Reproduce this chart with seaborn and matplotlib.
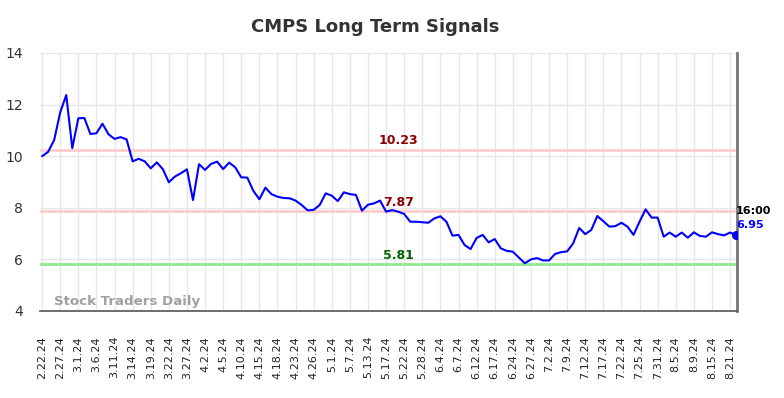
import numpy as np
import pandas as pd
import matplotlib
matplotlib.use("Agg")
import matplotlib.pyplot as plt
import seaborn as sns

values = [10.00, 10.17, 10.63, 11.70, 12.37, 10.31, 11.47, 11.48, 10.86, 10.89,
          11.26, 10.85, 10.67, 10.74, 10.65, 9.80, 9.90, 9.80, 9.53, 9.76,
          9.50, 8.99, 9.21, 9.34, 9.49, 8.30, 9.69, 9.47, 9.70, 9.79,
          9.50, 9.75, 9.57, 9.18, 9.17, 8.66, 8.33, 8.78, 8.53, 8.43,
          8.38, 8.37, 8.28, 8.11, 7.90, 7.92, 8.11, 8.56, 8.47, 8.26,
          8.60, 8.53, 8.50, 7.89, 8.12, 8.17, 8.28, 7.85, 7.91, 7.85,
          7.76, 7.46, 7.46, 7.44, 7.42, 7.59, 7.67, 7.46, 6.92, 6.95,
          6.56, 6.40, 6.83, 6.95, 6.66, 6.79, 6.43, 6.33, 6.30, 6.07,
          5.85, 6.00, 6.05, 5.96, 5.96, 6.21, 6.28, 6.31, 6.62, 7.22,
          6.98, 7.14, 7.68, 7.48, 7.27, 7.29, 7.42, 7.27, 6.95, 7.46,
          7.94, 7.62, 7.62, 6.88, 7.04, 6.88, 7.04, 6.84, 7.05, 6.91,
          6.88, 7.05, 6.98, 6.93, 7.04, 6.95]

tick_labels = ["2.22.24", "2.27.24", "3.1.24", "3.6.24", "3.11.24", "3.14.24", "3.19.24",
               "3.22.24", "3.27.24", "4.2.24", "4.5.24", "4.10.24", "4.15.24", "4.18.24",
               "4.23.24", "4.26.24", "5.1.24", "5.7.24", "5.13.24", "5.17.24", "5.22.24",
               "5.28.24", "6.4.24", "6.7.24", "6.12.24", "6.17.24", "6.24.24", "6.27.24",
               "7.2.24", "7.9.24", "7.12.24", "7.17.24", "7.22.24", "7.25.24", "7.31.24",
               "8.5.24", "8.9.24", "8.15.24", "8.21.24"]

levels = [10.23, 7.87, 5.81]
level_labels = ["10.23", "7.87", "5.81"]
last_time = "16:00"
last_value = "6.95"

sns.set_theme(style="white")
plt.rcParams['font.family'] = ['DejaVu Sans']

df = pd.DataFrame({"idx": np.arange(len(values)), "price": values})

fig = plt.figure(figsize=(7.84, 3.98), dpi=100)
ax = fig.add_axes([40/784, 1-311/398, (737-40)/784, (311-53)/398])

tick_pos = np.arange(0, len(tick_labels) * 3, 3)
for t in tick_pos:
    ax.axvline(t, color="#e6e6e6", lw=1, zorder=0)
for yv in range(4, 15, 2):
    ax.axhline(yv, color="#e6e6e6", lw=1, zorder=0)

line_colors = ["#ffcccc", "#ffcccc", "#90e890"]
text_colors = ["#8b0000", "#8b0000", "#006400"]
for lv, lab, lc, tc in zip(levels, level_labels, line_colors, text_colors):
    ax.axhline(lv, color=lc, lw=2, zorder=1)

sns.lineplot(data=df, x="idx", y="price", ax=ax, color="#0000ff", lw=1.5, zorder=3)
ax.scatter([df["idx"].iloc[-1]], [df["price"].iloc[-1]], s=30, color="#0000ff", zorder=4)

mid = 59
offsets = [0.12, 0.08, 0.1]
for lv, lab, tc, off in zip(levels, level_labels, text_colors, offsets):
    ax.text(mid, lv + off, lab, color=tc, fontsize=9, fontweight="bold",
            ha="center", va="bottom", zorder=5)

ax.text(14/697, 0.012, "Stock Traders Daily", transform=ax.transAxes, color="#a0a0a0",
        fontsize=9.6, fontweight="bold", ha="left", va="bottom")

last_x = df["idx"].iloc[-1]
ax.text(last_x, 7.88, last_time, color="black", fontsize=8, fontweight="bold",
        ha="left", va="center", clip_on=False)
ax.text(last_x, 7.33, last_value, color="#0000ff", fontsize=8, fontweight="bold",
        ha="left", va="center", clip_on=False)

ax.set_xlim(-0.35, last_x + 0.15)
ax.set_ylim(4, 14)
ax.set_yticks(range(4, 15, 2))
ax.set_xticks(tick_pos)
ax.set_xticklabels(tick_labels, rotation=90, fontsize=8, color="#222222")
ax.tick_params(axis="y", labelsize=10, colors="#333333", length=0, pad=12)
ax.tick_params(axis="x", length=0, pad=18)
ax.set_xlabel("")
ax.set_ylabel("")

for s in ["top", "left"]:
    ax.spines[s].set_visible(False)
ax.spines["bottom"].set_color("#555555")
ax.spines["bottom"].set_linewidth(1.2)
ax.spines["right"].set_color("#777777")
ax.spines["right"].set_linewidth(2)

fig.text(375/784, 1-27/398, "CMPS Long Term Signals", ha="center", va="center",
         fontsize=13, fontweight="bold", color="#333333")

fig.savefig("out.png", dpi=100)
